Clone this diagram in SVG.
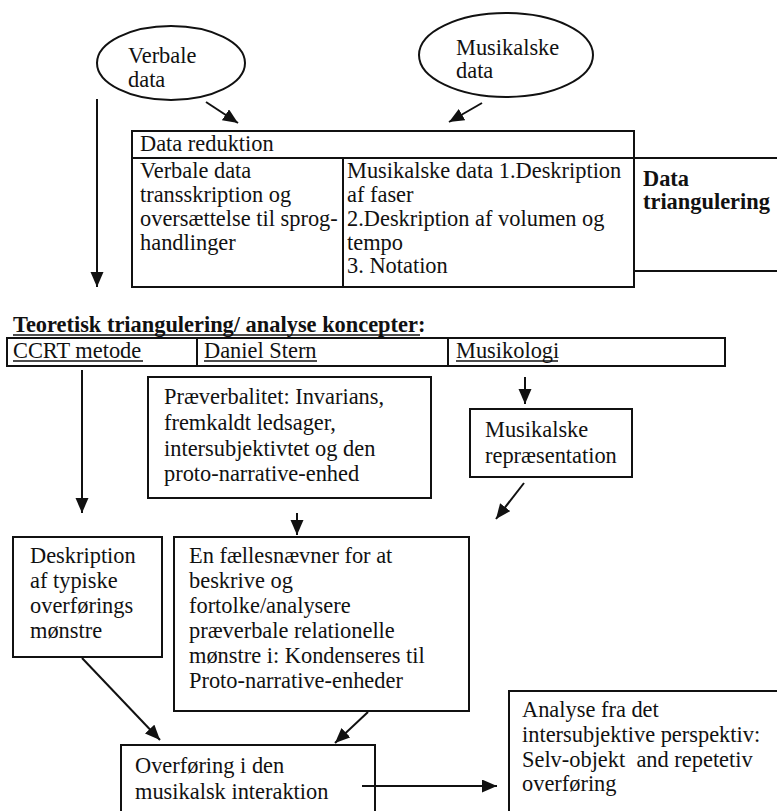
<svg xmlns="http://www.w3.org/2000/svg" width="777" height="811" viewBox="0 0 777 811" font-family="'Liberation Serif', 'DejaVu Serif', 'Times New Roman', serif">
<style>
text{font-family:'Liberation Serif','DejaVu Serif','Times New Roman',serif;font-size:22.4px;fill:#111}
.b{font-weight:bold}
.box{fill:none;stroke:#111;stroke-width:2}
.ln{stroke:#111;stroke-width:2;fill:none}
.ul{stroke:#111;stroke-width:1.5}
</style>
<defs>
<marker id="ah" markerUnits="userSpaceOnUse" markerWidth="16" markerHeight="14" refX="15" refY="6.5" orient="auto">
<path d="M0,0 L15,6.5 L0,13 Z" fill="#111"/>
</marker>
</defs>
<rect width="777" height="811" fill="#fff"/>

<g id="verbale-data">
<ellipse class="box" cx="171" cy="63" rx="74" ry="37"/>
<text x="128" y="63">Verbale</text>
<text x="128" y="87">data</text>
</g>

<g id="musikalske-data">
<ellipse class="box" cx="506" cy="55" rx="87" ry="42"/>
<text x="456" y="55">Musikalske</text>
<text x="456" y="78">data</text>
</g>

<g id="data-reduktion">
<rect class="box" x="132" y="131" width="502" height="156"/>
<line class="ln" x1="132" y1="158" x2="634" y2="158"/>
<line class="ln" x1="343" y1="158" x2="343" y2="287"/>
<text x="140" y="151">Data reduktion</text>
<text x="140" y="178">Verbale data</text>
<text x="140" y="202">transskription og</text>
<text x="140" y="226">oversættelse til sprog-</text>
<text x="140" y="250">handlinger</text>
<text x="347" y="178">Musikalske data 1.Deskription</text>
<text x="347" y="202">af faser</text>
<text x="347" y="226">2.Deskription af volumen og</text>
<text x="347" y="250">tempo</text>
<text x="347" y="273">3. Notation</text>
</g>

<g id="data-triangulering">
<path class="ln" d="M634,158 L777,158 M634,271 L777,271"/>
<text class="b" x="643" y="186">Data</text>
<text class="b" x="643" y="209">triangulering</text>
</g>

<g id="teoretisk-titel">
<text class="b" x="13" y="332">Teoretisk triangulering/ analyse koncepter:</text>
<line class="ul" x1="13" y1="335" x2="420" y2="335"/>
</g>

<g id="koncept-raekke">
<rect class="box" x="7" y="338" width="718" height="28"/>
<line class="ln" x1="197" y1="338" x2="197" y2="366"/>
<line class="ln" x1="448" y1="338" x2="448" y2="366"/>
<text x="13" y="358">CCRT metode</text>
<line class="ul" x1="13" y1="361" x2="143" y2="361"/>
<text x="204" y="358">Daniel Stern</text>
<line class="ul" x1="204" y1="361" x2="317" y2="361"/>
<text x="456" y="358">Musikologi</text>
<line class="ul" x1="456" y1="361" x2="558" y2="361"/>
</g>

<g id="praeverbalitet">
<rect class="box" x="148" y="377" width="283" height="121"/>
<text x="164" y="404">Præverbalitet: Invarians,</text>
<text x="164" y="430">fremkaldt ledsager,</text>
<text x="164" y="456">intersubjektivtet og den</text>
<text x="164" y="481">proto-narrative-enhed</text>
</g>

<g id="musikalske-repraesentation">
<rect class="box" x="470" y="409" width="162" height="68"/>
<text x="485" y="437">Musikalske</text>
<text x="485" y="463">repræsentation</text>
</g>

<g id="deskription">
<rect class="box" x="13" y="537" width="149" height="120"/>
<text x="30" y="563">Deskription</text>
<text x="30" y="588">af typiske</text>
<text x="30" y="613">overførings</text>
<text x="30" y="638">mønstre</text>
</g>

<g id="faellesnaevner">
<rect class="box" x="174" y="537" width="295" height="174"/>
<text x="189" y="563">En fællesnævner for at</text>
<text x="189" y="588">beskrive og</text>
<text x="189" y="613">fortolke/analysere</text>
<text x="189" y="638">præverbale relationelle</text>
<text x="189" y="663">mønstre i: Kondenseres til</text>
<text x="189" y="688">Proto-narrative-enheder</text>
</g>

<g id="overfoering">
<path class="ln" d="M121,812 L121,745 L375,745 L375,812"/>
<text x="135" y="773">Overføring i den</text>
<text x="135" y="799">musikalsk interaktion</text>
</g>

<g id="analyse">
<path class="ln" d="M509,812 L509,691 L778,691"/>
<text x="522" y="717">Analyse fra det</text>
<text x="522" y="742">intersubjektive perspektiv:</text>
<text x="522" y="767" xml:space="preserve">Selv-objekt  and repetetiv</text>
<text x="522" y="791">overføring</text>
</g>

<g id="connectors">
<line class="ln" x1="206" y1="102" x2="238" y2="123" marker-end="url(#ah)"/>
<line class="ln" x1="482" y1="103" x2="449" y2="122" marker-end="url(#ah)"/>
<line class="ln" x1="97" y1="99" x2="97" y2="287" marker-end="url(#ah)"/>
<line class="ln" x1="82" y1="370" x2="82" y2="513" marker-end="url(#ah)"/>
<line class="ln" x1="525" y1="377" x2="525" y2="404" marker-end="url(#ah)"/>
<line class="ln" x1="524" y1="483" x2="496" y2="519" marker-end="url(#ah)"/>
<line class="ln" x1="297" y1="513" x2="297" y2="535" marker-end="url(#ah)"/>
<line class="ln" x1="82" y1="658" x2="160" y2="740" marker-end="url(#ah)"/>
<line class="ln" x1="368" y1="712" x2="335" y2="743" marker-end="url(#ah)"/>
<line class="ln" x1="362" y1="786" x2="497" y2="786" marker-end="url(#ah)"/>
</g>
</svg>
